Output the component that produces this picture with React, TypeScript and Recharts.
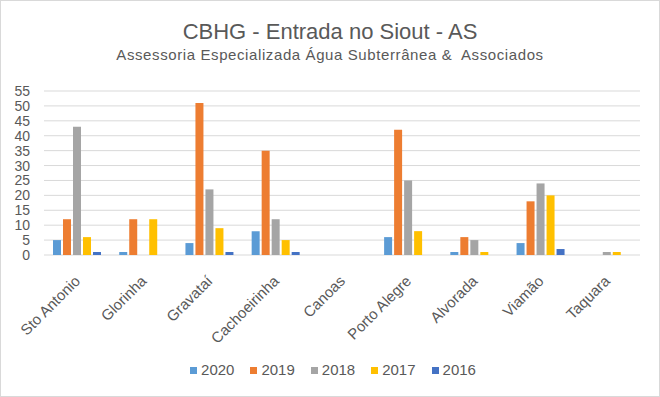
import React from "react";
import { BarChart, Bar, XAxis, YAxis, CartesianGrid, Legend } from "recharts";

const municipios = [
  "Sto Antonio",
  "Glorinha",
  "Gravataí",
  "Cachoeirinha",
  "Canoas",
  "Porto Alegre",
  "Alvorada",
  "Viamão",
  "Taquara",
];

const v2020 = [5, 1, 4, 8, 0, 6, 1, 4, 0];
const v2019 = [12, 12, 51, 35, 0, 42, 6, 18, 0];
const v2018 = [43, 0, 22, 12, 0, 25, 5, 24, 1];
const v2017 = [6, 12, 9, 5, 0, 8, 1, 20, 1];
const v2016 = [1, 0, 1, 1, 0, 0, 0, 2, 0];

const yTicks = [0, 5, 10, 15, 20, 25, 30, 35, 40, 45, 50, 55];

const series = [
  { key: "2020", color: "#5B9BD5" },
  { key: "2019", color: "#ED7D31" },
  { key: "2018", color: "#A5A5A5" },
  { key: "2017", color: "#FFC000" },
  { key: "2016", color: "#4472C4" },
];

const data = municipios.map((name, i) => ({
  name,
  "2020": v2020[i],
  "2019": v2019[i],
  "2018": v2018[i],
  "2017": v2017[i],
  "2016": v2016[i],
}));

const FONT = '"Liberation Sans", Arial, sans-serif';
const TEXT = "#595959";

function AngledTick(props: any) {
  const { x, y, payload } = props;
  return (
    <text
      x={0}
      y={0}
      transform={`translate(${x + 4},${y + 19}) rotate(-45)`}
      textAnchor="end"
      fontSize={15}
      fill={TEXT}
      fontFamily={FONT}
    >
      {payload.value}
    </text>
  );
}

function LegendBox() {
  return (
    <div
      style={{
        height: 20,
        display: "flex",
        justifyContent: "center",
        alignItems: "center",
        fontFamily: FONT,
        fontSize: 15,
        color: TEXT,
        paddingLeft: 26,
      }}
    >
      {series.map((s) => (
        <span key={s.key} style={{ display: "inline-flex", alignItems: "center", margin: "0 8px" }}>
          <span style={{ width: 7, height: 7, background: s.color, marginRight: 4, marginTop: 2 }} />
          {s.key}
        </span>
      ))}
    </div>
  );
}

export default function App() {
  return (
    <div
      style={{
        position: "absolute",
        left: 0,
        top: 0,
        width: 660,
        height: 397,
        border: "1px solid #d9d9d9",
        boxSizing: "border-box",
        background: "#fff",
        fontFamily: FONT,
      }}
    >
      <div
        style={{
          position: "absolute",
          top: 20,
          left: 0,
          width: 658,
          textAlign: "center",
          fontSize: 22,
          lineHeight: 1,
          color: TEXT,
        }}
      >
        CBHG - Entrada no Siout - AS
      </div>
      <div
        style={{
          position: "absolute",
          top: 46,
          left: 0,
          width: 658,
          textAlign: "center",
          fontSize: 15,
          letterSpacing: 0.6,
          lineHeight: 1,
          color: TEXT,
          whiteSpace: "pre",
        }}
      >
        {"Assessoria Especializada Água Subterrânea &  Associados"}
      </div>
      <div style={{ position: "absolute", left: -1, top: -1 }}>
        <BarChart
          width={660}
          height={397}
          data={data}
          margin={{ top: 91, right: 20, bottom: 30, left: 0 }}
          barCategoryGap={9}
          barGap={2}
        >
          <CartesianGrid vertical={false} stroke="#d9d9d9" />
          <XAxis
            dataKey="name"
            height={92}
            interval={0}
            axisLine={false}
            tickLine={false}
            tick={<AngledTick />}
          />
          <YAxis
            width={44}
            domain={[0, 55]}
            ticks={yTicks}
            interval={0}
            axisLine={false}
            tickLine={false}
            tickSize={0}
            tickMargin={14}
            tick={{ fontSize: 14, fill: TEXT, fontFamily: FONT }}
          />
          <Legend
            verticalAlign="bottom"
            content={() => <LegendBox />}
            wrapperStyle={{ bottom: 18 }}
          />
          {series.map((s) => (
            <Bar key={s.key} dataKey={s.key} fill={s.color} isAnimationActive={false} />
          ))}
        </BarChart>
      </div>
    </div>
  );
}
